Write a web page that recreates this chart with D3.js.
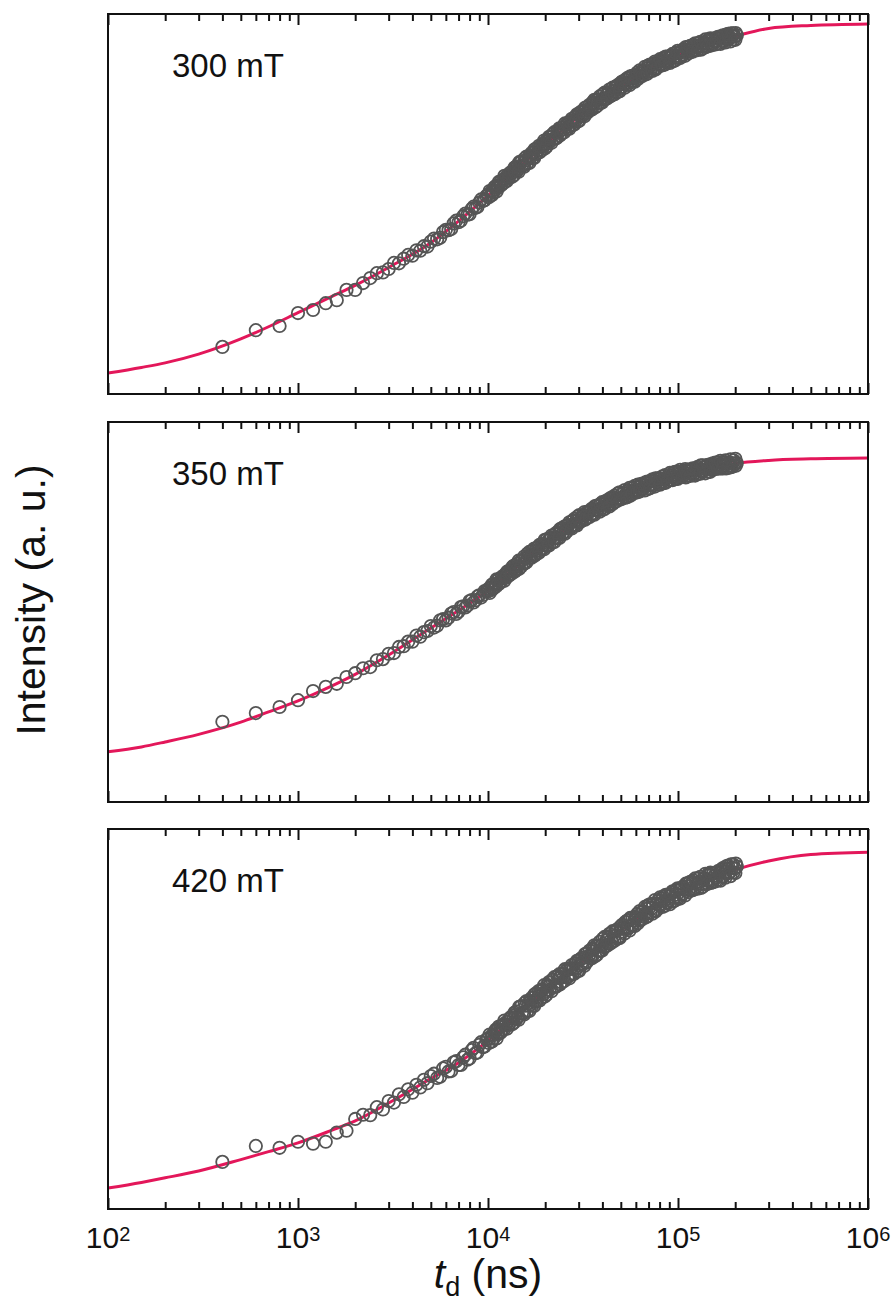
<!DOCTYPE html>
<html>
<head>
<meta charset="utf-8">
<script src="https://cdn.jsdelivr.net/npm/d3@7"></script>
<style>
  body { margin: 0; background: #fff; }
  svg { display: block; }
  text { font-family: "Liberation Sans", Arial, Helvetica, sans-serif; fill: #111; }
</style>
</head>
<body>
<svg id="chart" width="896" height="1303"></svg>
<script>
// panel labels (magnetic field)
const fields = ["300 mT", "350 mT", "420 mT"]

// delay times of the measured points (ns), first pass
const delayNs = [
  400, 600, 800, 1000, 1200, 1400, 1600, 1800, 2000, 2200,
  2400, 2600, 2800, 3000, 3200, 3400, 3600, 3800, 4000, 4200,
  4400, 4600, 4800, 5000, 5400, 5800, 6200, 6600, 7000, 7400,
  7800, 8200, 8600, 9000, 9400, 9800,
  10000, 10400, 10600, 11000, 11200, 11600, 12000, 12400, 12800, 13200,
  13600, 14000, 14400, 14800, 15400, 15800, 16400, 16800, 17400, 17800,
  18400, 19000, 19600, 20200, 20800, 21400, 22200, 22800, 23600, 24200,
  25000, 25800, 26600, 27400, 28200, 29200, 30000, 31000, 32000, 32800,
  34000, 35000, 36000, 37200, 38400, 39600, 40800, 42000, 43200, 44600,
  46000, 47400, 49000, 50400, 52000, 53600, 55200, 57000, 58800, 60600,
  62400, 64400, 66400, 68400, 70600, 72800, 75000, 77400, 79800, 82200,
  84800, 87400, 90000, 92800, 95800, 98800, 101800, 105000, 108200, 111600,
  115000, 118600, 122200, 126000, 130000, 134000, 138200, 142400, 146800, 151400,
  156000, 161000, 165800, 171000, 176400, 182000, 187400, 193200, 199200, 204000
]

// measured intensity (a. u., 0 = panel bottom, 1 = panel top)
const intensity300 = [
  0.124, 0.168, 0.179, 0.213, 0.221, 0.239, 0.247, 0.274, 0.274, 0.292,
  0.305, 0.318, 0.320, 0.329, 0.345, 0.344, 0.356, 0.366, 0.364, 0.378,
  0.377, 0.389, 0.388, 0.401, 0.407, 0.426, 0.431, 0.449, 0.452, 0.468,
  0.472, 0.487, 0.490, 0.504, 0.508, 0.521,
  0.525, 0.523, 0.536, 0.547, 0.545, 0.548, 0.564, 0.567, 0.570, 0.583,
  0.584, 0.592, 0.592, 0.609, 0.602, 0.615, 0.622, 0.623, 0.636, 0.631,
  0.642, 0.652, 0.651, 0.658, 0.667, 0.676, 0.672, 0.674, 0.690, 0.694,
  0.696, 0.708, 0.704, 0.716, 0.719, 0.722, 0.736, 0.734, 0.745, 0.739,
  0.751, 0.754, 0.764, 0.773, 0.767, 0.776, 0.775, 0.787, 0.794, 0.791,
  0.797, 0.807, 0.802, 0.815, 0.817, 0.818, 0.830, 0.824, 0.832, 0.838,
  0.836, 0.849, 0.847, 0.848, 0.859, 0.860, 0.856, 0.869, 0.867, 0.878,
  0.876, 0.875, 0.884, 0.891, 0.885, 0.891, 0.899, 0.892, 0.901, 0.906,
  0.903, 0.913, 0.904, 0.913, 0.917, 0.915, 0.924, 0.921, 0.930, 0.923,
  0.930, 0.929, 0.935, 0.929, 0.935, 0.941, 0.936, 0.942, 0.941, 0.944
]
const intensity350 = [
  0.211, 0.234, 0.250, 0.268, 0.292, 0.303, 0.311, 0.329, 0.339, 0.352,
  0.355, 0.373, 0.376, 0.390, 0.392, 0.408, 0.410, 0.422, 0.422, 0.438,
  0.435, 0.447, 0.450, 0.463, 0.464, 0.481, 0.485, 0.500, 0.501, 0.515,
  0.517, 0.531, 0.531, 0.544, 0.545, 0.556,
  0.554, 0.565, 0.561, 0.573, 0.583, 0.580, 0.589, 0.600, 0.595, 0.607,
  0.614, 0.613, 0.621, 0.633, 0.628, 0.642, 0.649, 0.648, 0.650, 0.661,
  0.671, 0.667, 0.676, 0.675, 0.688, 0.695, 0.694, 0.696, 0.707, 0.714,
  0.709, 0.720, 0.729, 0.726, 0.730, 0.742, 0.736, 0.747, 0.754, 0.754,
  0.763, 0.758, 0.769, 0.768, 0.780, 0.774, 0.783, 0.788, 0.782, 0.792,
  0.800, 0.798, 0.799, 0.810, 0.804, 0.813, 0.820, 0.813, 0.820, 0.821,
  0.829, 0.823, 0.832, 0.838, 0.833, 0.837, 0.845, 0.841, 0.851, 0.842,
  0.849, 0.853, 0.849, 0.860, 0.856, 0.853, 0.864, 0.864, 0.861, 0.870,
  0.865, 0.875, 0.865, 0.872, 0.876, 0.872, 0.881, 0.877, 0.875, 0.884,
  0.883, 0.880, 0.889, 0.884, 0.887, 0.891, 0.886, 0.892, 0.890, 0.892
]
const intensity420 = [
  0.124, 0.166, 0.161, 0.177, 0.172, 0.177, 0.201, 0.206, 0.237, 0.248,
  0.247, 0.268, 0.262, 0.284, 0.280, 0.302, 0.295, 0.315, 0.306, 0.327,
  0.320, 0.340, 0.331, 0.350, 0.345, 0.370, 0.362, 0.386, 0.379, 0.399,
  0.393, 0.418, 0.410, 0.432, 0.426, 0.446,
  0.449, 0.440, 0.457, 0.472, 0.463, 0.463, 0.486, 0.485, 0.485, 0.505,
  0.501, 0.512, 0.506, 0.532, 0.515, 0.535, 0.542, 0.539, 0.557, 0.545,
  0.560, 0.573, 0.566, 0.574, 0.585, 0.596, 0.585, 0.585, 0.608, 0.610,
  0.610, 0.627, 0.613, 0.632, 0.633, 0.632, 0.654, 0.647, 0.661, 0.648,
  0.667, 0.666, 0.682, 0.693, 0.679, 0.694, 0.689, 0.707, 0.717, 0.709,
  0.718, 0.731, 0.718, 0.739, 0.741, 0.740, 0.759, 0.747, 0.759, 0.766,
  0.760, 0.781, 0.775, 0.777, 0.793, 0.792, 0.785, 0.804, 0.801, 0.816,
  0.811, 0.807, 0.822, 0.833, 0.820, 0.827, 0.841, 0.827, 0.841, 0.849,
  0.842, 0.858, 0.842, 0.856, 0.862, 0.855, 0.871, 0.864, 0.879, 0.865,
  0.877, 0.873, 0.885, 0.875, 0.887, 0.895, 0.887, 0.898, 0.896, 0.901
]

// second pass of points, in between the first ones (dense, scattered part)
const delayNsB = [
  5200, 5600, 6000, 6400, 6800, 7200, 7600, 8000, 8400, 8800, 9200, 9600,
  10200, 10500, 10800, 11100, 11400, 11800, 12200, 12600, 13000, 13400,
  13800, 14200, 14600, 15100, 15600, 16100, 16600, 17100, 17600, 18100,
  18700, 19300, 19900, 20500, 21100, 21800, 22500, 23200, 23900, 24600,
  25400, 26200, 27000, 27800, 28700, 29600, 30500, 31500, 32400, 33400,
  34500, 35500, 36600, 37800, 39000, 40200, 41400, 42600, 43900, 45300,
  46700, 48200, 49700, 51200, 52800, 54400, 56100, 57900, 59700, 61500,
  63400, 65400, 67400, 69500, 71700, 73900, 76200, 78600, 81000, 83500,
  86100, 88700, 91400, 94300, 97300, 100300, 103400, 106600, 109900, 113300,
  116800, 120400, 124100, 128000, 132000, 136100, 140300, 144600, 149100, 153700,
  158500, 163400, 168400, 173700, 179200, 184700, 190300, 196200, 201600
]
const intensity300B = [
  0.409, 0.411, 0.432, 0.434, 0.456, 0.456, 0.475, 0.473, 0.493, 0.492, 0.512, 0.510,
  0.534, 0.524, 0.544, 0.533, 0.558, 0.551, 0.574, 0.561, 0.581, 0.572,
  0.596, 0.586, 0.610, 0.600, 0.620, 0.607, 0.628, 0.620, 0.644, 0.633,
  0.636, 0.658, 0.646, 0.670, 0.663, 0.683, 0.672, 0.693, 0.680, 0.702,
  0.712, 0.698, 0.717, 0.708, 0.729, 0.717, 0.741, 0.732, 0.753, 0.741,
  0.747, 0.768, 0.754, 0.774, 0.766, 0.789, 0.776, 0.793, 0.783, 0.806,
  0.808, 0.795, 0.818, 0.809, 0.827, 0.815, 0.836, 0.822, 0.840, 0.829,
  0.835, 0.852, 0.841, 0.864, 0.851, 0.869, 0.854, 0.875, 0.866, 0.884,
  0.888, 0.874, 0.890, 0.876, 0.898, 0.885, 0.901, 0.893, 0.913, 0.896,
  0.900, 0.919, 0.906, 0.923, 0.906, 0.924, 0.913, 0.933, 0.917, 0.935,
  0.936, 0.923, 0.941, 0.928, 0.946, 0.933, 0.949, 0.933, 0.950
]
const intensity350B = [
  0.459, 0.478, 0.478, 0.496, 0.495, 0.513, 0.512, 0.529, 0.525, 0.541, 0.538, 0.555,
  0.550, 0.572, 0.564, 0.586, 0.574, 0.592, 0.582, 0.606, 0.598, 0.618,
  0.606, 0.627, 0.614, 0.636, 0.628, 0.653, 0.642, 0.661, 0.648, 0.669,
  0.677, 0.666, 0.690, 0.675, 0.693, 0.683, 0.705, 0.694, 0.718, 0.706,
  0.706, 0.729, 0.721, 0.740, 0.728, 0.751, 0.737, 0.755, 0.743, 0.764,
  0.767, 0.756, 0.779, 0.767, 0.784, 0.769, 0.791, 0.781, 0.799, 0.784,
  0.790, 0.812, 0.796, 0.813, 0.801, 0.820, 0.806, 0.827, 0.816, 0.835,
  0.836, 0.824, 0.841, 0.824, 0.843, 0.832, 0.852, 0.837, 0.851, 0.839,
  0.840, 0.859, 0.848, 0.867, 0.850, 0.869, 0.857, 0.870, 0.854, 0.875,
  0.875, 0.860, 0.877, 0.864, 0.886, 0.871, 0.885, 0.869, 0.889, 0.875,
  0.877, 0.894, 0.878, 0.894, 0.878, 0.894, 0.881, 0.899, 0.885
]
const intensity420B = [
  0.356, 0.348, 0.374, 0.363, 0.389, 0.379, 0.406, 0.396, 0.424, 0.412, 0.439, 0.428,
  0.459, 0.441, 0.466, 0.449, 0.480, 0.468, 0.496, 0.475, 0.501, 0.486,
  0.517, 0.501, 0.532, 0.516, 0.542, 0.521, 0.548, 0.535, 0.565, 0.549,
  0.549, 0.578, 0.559, 0.590, 0.577, 0.603, 0.585, 0.613, 0.591, 0.619,
  0.631, 0.610, 0.633, 0.618, 0.646, 0.626, 0.657, 0.644, 0.671, 0.652,
  0.660, 0.686, 0.665, 0.691, 0.679, 0.711, 0.691, 0.714, 0.698, 0.731,
  0.732, 0.712, 0.743, 0.730, 0.755, 0.737, 0.766, 0.746, 0.769, 0.752,
  0.760, 0.783, 0.767, 0.799, 0.780, 0.804, 0.783, 0.812, 0.799, 0.822,
  0.827, 0.806, 0.828, 0.809, 0.839, 0.818, 0.842, 0.830, 0.856, 0.834,
  0.838, 0.865, 0.846, 0.870, 0.845, 0.870, 0.854, 0.882, 0.858, 0.884,
  0.884, 0.866, 0.893, 0.875, 0.902, 0.884, 0.907, 0.886, 0.909
]

// third pass of points (edges of the scattered band)
const delayNsC = [
  10100, 10450, 10700, 11050, 11300, 11700, 12100, 12500, 12900, 13300,
  13700, 14100, 14500, 14950, 15500, 15950, 16500, 16950, 17500, 17950,
  18550, 19150, 19750, 20350, 20950, 21600, 22350, 23000, 23750, 24400,
  25200, 26000, 26800, 27600, 28450, 29400, 30250, 31250, 32200, 33100,
  34250, 35250, 36300, 37500, 38700, 39900, 41100, 42300, 43550, 44950,
  46350, 47800, 49350, 50800, 52400, 54000, 55650, 57450, 59250, 61050,
  62900, 64900, 66900, 68950, 71150, 73350, 75600, 78000, 80400, 82850,
  85450, 88050, 90700, 93550, 96550, 99550, 102600, 105800, 109050, 112450,
  115900, 119500, 123150, 127000, 131000, 135050, 139250, 143500, 147950, 152550,
  157250, 162200, 167100, 172350, 177800, 183350, 188850, 194700, 200400
]
const intensity300C = [
  0.518, 0.533, 0.530, 0.547, 0.542, 0.560, 0.555, 0.572, 0.568, 0.584,
  0.576, 0.599, 0.585, 0.612, 0.598, 0.625, 0.608, 0.634, 0.621, 0.646,
  0.653, 0.641, 0.667, 0.651, 0.677, 0.661, 0.689, 0.674, 0.699, 0.685,
  0.689, 0.712, 0.698, 0.724, 0.709, 0.736, 0.719, 0.744, 0.731, 0.755,
  0.761, 0.749, 0.774, 0.758, 0.783, 0.767, 0.793, 0.778, 0.801, 0.786,
  0.789, 0.812, 0.797, 0.822, 0.806, 0.831, 0.813, 0.837, 0.822, 0.846,
  0.852, 0.837, 0.861, 0.843, 0.867, 0.850, 0.875, 0.859, 0.881, 0.865,
  0.867, 0.888, 0.871, 0.895, 0.878, 0.903, 0.884, 0.906, 0.890, 0.913,
  0.916, 0.901, 0.923, 0.905, 0.927, 0.909, 0.933, 0.915, 0.936, 0.919,
  0.920, 0.940, 0.921, 0.944, 0.925, 0.948, 0.928, 0.949, 0.932
]
const intensity350C = [
  0.562, 0.558, 0.574, 0.568, 0.585, 0.579, 0.596, 0.591, 0.607, 0.601,
  0.622, 0.610, 0.635, 0.620, 0.646, 0.631, 0.658, 0.643, 0.667, 0.652,
  0.656, 0.679, 0.665, 0.691, 0.675, 0.701, 0.684, 0.709, 0.695, 0.720,
  0.725, 0.712, 0.736, 0.720, 0.745, 0.728, 0.755, 0.740, 0.763, 0.747,
  0.750, 0.772, 0.756, 0.780, 0.764, 0.789, 0.771, 0.794, 0.778, 0.802,
  0.806, 0.792, 0.815, 0.798, 0.821, 0.802, 0.827, 0.810, 0.832, 0.815,
  0.817, 0.838, 0.820, 0.843, 0.826, 0.849, 0.830, 0.852, 0.835, 0.857,
  0.860, 0.844, 0.866, 0.847, 0.869, 0.850, 0.874, 0.856, 0.876, 0.858,
  0.858, 0.878, 0.859, 0.882, 0.864, 0.886, 0.865, 0.887, 0.869, 0.891,
  0.893, 0.877, 0.898, 0.878, 0.899, 0.879, 0.902, 0.883, 0.903
]
const intensity420C = [
  0.437, 0.456, 0.448, 0.469, 0.460, 0.481, 0.472, 0.492, 0.484, 0.504,
  0.490, 0.520, 0.498, 0.534, 0.512, 0.547, 0.521, 0.555, 0.534, 0.568,
  0.574, 0.555, 0.589, 0.564, 0.597, 0.573, 0.610, 0.587, 0.618, 0.596,
  0.600, 0.630, 0.607, 0.642, 0.619, 0.653, 0.627, 0.661, 0.640, 0.673,
  0.680, 0.660, 0.694, 0.669, 0.703, 0.680, 0.716, 0.693, 0.724, 0.702,
  0.706, 0.736, 0.713, 0.748, 0.725, 0.759, 0.733, 0.766, 0.745, 0.777,
  0.784, 0.763, 0.795, 0.770, 0.802, 0.777, 0.813, 0.789, 0.820, 0.795,
  0.798, 0.826, 0.802, 0.836, 0.812, 0.844, 0.817, 0.848, 0.825, 0.857,
  0.861, 0.839, 0.870, 0.843, 0.874, 0.848, 0.882, 0.856, 0.885, 0.860,
  0.862, 0.889, 0.864, 0.897, 0.872, 0.904, 0.876, 0.907, 0.884
]

// fitted curves
const fitNs = [100, 150, 200, 300, 500, 700, 1000, 1500, 2000, 3000, 5000, 7000,
  10000, 15000, 20000, 30000, 50000, 70000, 100000, 150000, 200000, 300000, 500000, 1000000]
const fit300 = [0.055, 0.070, 0.082, 0.105, 0.145, 0.177, 0.214, 0.256, 0.286, 0.333, 0.398, 0.455,
  0.522, 0.603, 0.657, 0.730, 0.811, 0.854, 0.893, 0.926, 0.942, 0.962, 0.970, 0.974]
const fit350 = [0.132, 0.145, 0.158, 0.178, 0.210, 0.237, 0.266, 0.305, 0.336, 0.387, 0.458, 0.504,
  0.556, 0.630, 0.679, 0.742, 0.805, 0.835, 0.860, 0.880, 0.891, 0.899, 0.903, 0.905]
const fit420 = [0.055, 0.070, 0.082, 0.100, 0.130, 0.151, 0.174, 0.207, 0.232, 0.279, 0.343, 0.385,
  0.443, 0.522, 0.576, 0.643, 0.733, 0.785, 0.831, 0.871, 0.893, 0.916, 0.933, 0.939]

// x axis decades and their exponents
const decades = [1e2, 1e3, 1e4, 1e5, 1e6]
const exponents = ["2", "3", "4", "5", "6"]

const panels = [
  { label: fields[0], sets: [intensity300, intensity300B, intensity300C], fit: fit300 },
  { label: fields[1], sets: [intensity350, intensity350B, intensity350C], fit: fit350 },
  { label: fields[2], sets: [intensity420, intensity420B, intensity420C], fit: fit420 }
]
const timeSets = [delayNs, delayNsB, delayNsC]

const left = 108, right = 868, panelH = 380
const tops = [14, 422, 829]
const lineColor = '#e3175a', markColor = '#555'

const svg = d3.select('#chart')

const x = d3.scaleLog().domain([1e2, 1e6]).range([left, right])

// minor ticks 2..9 in each decade
const minorTicks = []
decades.slice(0, -1).forEach(d => { for (let m = 2; m <= 9; m++) minorTicks.push(m * d) })

panels.forEach((p, i) => {
  const top = tops[i], bottom = top + panelH
  const y = d3.scaleLinear().domain([0, 1]).range([bottom, top])
  const g = svg.append('g').attr('class', 'panel')

  //curva de ajuste
  const fitPts = fitNs.map((t, j) => ({ t, v: p.fit[j] }))
  g.append('path')
    .datum(fitPts)
    .attr('fill', 'none')
    .attr('stroke', lineColor)
    .attr('stroke-width', 3)
    .attr('d', d3.line().x(d => x(d.t)).y(d => y(d.v)).curve(d3.curveMonotoneX))

  //puntos medidos
  const pts = timeSets.flatMap((ts, s) => ts.map((t, j) => ({ t, v: p.sets[s][j] })))
  g.append('g')
    .selectAll('circle')
    .data(pts)
    .join('circle')
    .attr('cx', d => x(d.t))
    .attr('cy', d => y(d.v))
    .attr('r', 6.2)
    .attr('fill', 'none')
    .attr('stroke', markColor)
    .attr('stroke-width', 1.8)

  // ticks, bottom and top, pointing inward
  const tickAxes = [
    [d3.axisBottom, bottom, -11, decades],
    [d3.axisBottom, bottom, -7, minorTicks],
    [d3.axisTop, top, -11, decades],
    [d3.axisTop, top, -7, minorTicks]
  ]
  tickAxes.forEach(([axisFn, yPos, size, vals]) => {
    g.append('g')
      .attr('transform', `translate(0,${yPos})`)
      .call(axisFn(x).tickValues(vals).tickSize(size).tickFormat(''))
      .call(a => a.select('.domain').remove())
      .call(a => a.selectAll('line').attr('stroke', '#111').attr('stroke-width', 2))
  })

  // frame
  g.append('rect')
    .attr('x', left).attr('y', top)
    .attr('width', right - left).attr('height', panelH)
    .attr('fill', 'none')
    .attr('stroke', '#111')
    .attr('stroke-width', 2)

  g.append('text')
    .text(p.label)
    .attr('x', 172)
    .attr('y', top + 63)
    .attr('font-size', '33px')

  // tick labels on the last panel only
  if (i === panels.length - 1) {
    const lbl = g.append('g').selectAll('text')
      .data(decades)
      .join('text')
      .attr('x', d => x(d))
      .attr('y', bottom + 39)
      .attr('text-anchor', 'middle')
      .attr('font-size', '30px')
    lbl.append('tspan').text('10')
    lbl.append('tspan').text((d, j) => exponents[j]).attr('font-size', '20px').attr('dy', -7)
  }
})

//eje x titulo
const xTitle = svg.append('text')
  .attr('x', 488)
  .attr('y', 1288)
  .attr('text-anchor', 'middle')
  .attr('font-size', '41px')
xTitle.append('tspan').text('t').attr('font-style', 'italic')
xTitle.append('tspan').text('d').attr('font-size', '27px').attr('dy', 8)
xTitle.append('tspan').text(' (ns)').attr('dy', -8)

//eje y titulo
svg.append('text')
  .text('Intensity (a. u.)')
  .attr('transform', 'rotate(-90)')
  .attr('x', -600)
  .attr('y', 45)
  .attr('text-anchor', 'middle')
  .attr('font-size', '41px')
</script>
</body>
</html>
